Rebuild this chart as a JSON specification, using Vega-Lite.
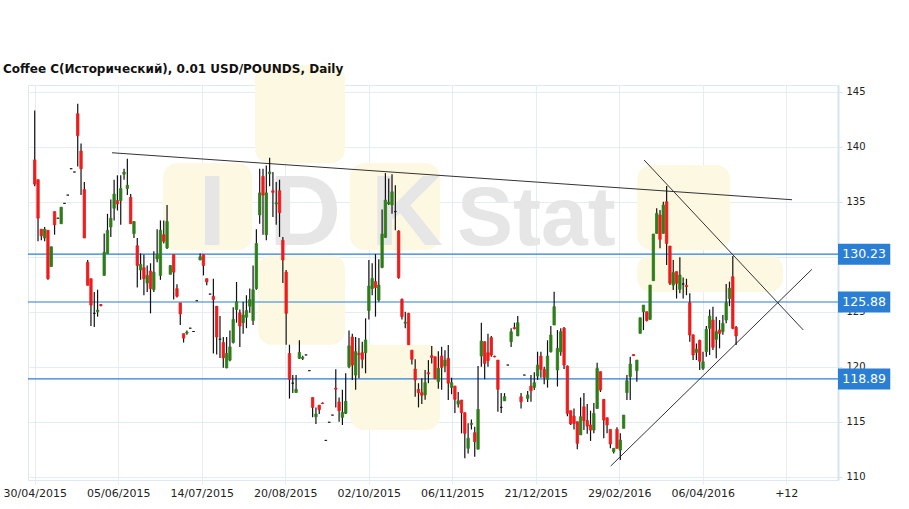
{
  "$schema": "https://vega.github.io/schema/vega-lite/v6.json",
  "width": 810,
  "height": 395,
  "autosize": {"type": "none"},
  "padding": {"left": 28, "top": 85, "right": 71, "bottom": 29},
  "background": "white",
  "title": {"text": "Coffee C(Исторический), 0.01 USD/POUNDS, Daily", "anchor": "start", "frame": "group", "dx": -25, "dy": 19, "offset": 8, "font": "DejaVu Sans", "fontSize": 12, "fontWeight": "bold", "color": "#111111"},
  "config": {"view": {"stroke": "#dfe8f1", "strokeWidth": 1}, "font": "DejaVu Sans"},
  "datasets": {
    "candles": [
      {"i":0,"o":138.8,"h":143.3,"l":136.4,"c":136.6},
      {"i":1,"o":137.0,"h":137.0,"l":131.4,"c":133.5},
      {"i":2,"o":132.5,"h":132.5,"l":131.5,"c":131.9},
      {"i":3,"o":131.7,"h":132.7,"l":131.4,"c":132.5},
      {"i":4,"o":132.4,"h":132.4,"l":127.9,"c":128.0},
      {"i":5,"o":129.1,"h":130.9,"l":129.1,"c":130.9},
      {"i":6,"o":134.1,"h":134.1,"l":132.0,"c":132.9},
      {"i":7,"o":133.5,"h":133.5,"l":133.5,"c":133.5},
      {"i":8,"o":133.0,"h":134.5,"l":133.0,"c":134.5},
      {"i":9,"o":134.85,"h":134.85,"l":134.85,"c":134.85},
      {"i":10,"o":135.6,"h":135.6,"l":135.6,"c":135.6},
      {"i":11,"o":138.0,"h":138.0,"l":138.0,"c":138.0},
      {"i":12,"o":137.7,"h":137.7,"l":137.7,"c":137.7},
      {"i":13,"o":143.0,"h":143.9,"l":138.2,"c":141.0},
      {"i":14,"o":139.6,"h":140.3,"l":135.6,"c":138.0},
      {"i":15,"o":136.1,"h":136.8,"l":131.7,"c":131.7},
      {"i":16,"o":129.5,"h":129.7,"l":127.4,"c":127.4},
      {"i":17,"o":128.0,"h":128.0,"l":123.7,"c":125.6},
      {"i":18,"o":124.85,"h":126.8,"l":123.6,"c":124.85},
      {"i":19,"o":125.0,"h":127.0,"l":124.55,"c":125.15},
      {"i":20,"o":125.65,"h":125.7,"l":125.5,"c":125.55},
      {"i":21,"o":128.3,"h":132.1,"l":128.3,"c":130.4},
      {"i":22,"o":130.3,"h":133.9,"l":130.3,"c":132.4},
      {"i":23,"o":132.7,"h":135.2,"l":131.8,"c":133.5},
      {"i":24,"o":134.4,"h":137.0,"l":133.3,"c":135.7},
      {"i":25,"o":135.1,"h":137.4,"l":134.2,"c":134.8},
      {"i":26,"o":135.1,"h":137.4,"l":132.9,"c":136.2},
      {"i":27,"o":137.5,"h":138.0,"l":137.0,"c":137.7},
      {"i":28,"o":136.2,"h":138.9,"l":135.6,"c":136.5},
      {"i":29,"o":135.4,"h":135.7,"l":133.0,"c":133.0},
      {"i":30,"o":132.1,"h":133.2,"l":131.7,"c":133.2},
      {"i":31,"o":131.0,"h":131.7,"l":127.2,"c":129.2},
      {"i":32,"o":128.8,"h":130.3,"l":127.9,"c":129.3},
      {"i":33,"o":129.0,"h":130.2,"l":126.5,"c":128.0},
      {"i":34,"o":127.6,"h":129.2,"l":126.8,"c":128.3},
      {"i":35,"o":128.7,"h":129.4,"l":124.85,"c":127.1},
      {"i":36,"o":127.0,"h":130.5,"l":126.8,"c":128.6},
      {"i":37,"o":129.8,"h":132.5,"l":129.5,"c":130.2},
      {"i":38,"o":128.3,"h":133.3,"l":127.9,"c":132.4},
      {"i":39,"o":132.0,"h":133.3,"l":131.2,"c":131.4},
      {"i":40,"o":130.8,"h":134.7,"l":130.7,"c":133.2},
      {"i":41,"o":128.4,"h":129.2,"l":128.4,"c":129.2},
      {"i":42,"o":130.2,"h":130.2,"l":126.1,"c":128.6},
      {"i":43,"o":127.1,"h":127.5,"l":126.3,"c":126.4},
      {"i":44,"o":125.8,"h":125.8,"l":123.8,"c":124.8},
      {"i":45,"o":123.0,"h":123.0,"l":122.2,"c":122.6},
      {"i":46,"o":123.05,"h":123.3,"l":122.9,"c":123.15},
      {"i":47,"o":123.5,"h":123.5,"l":123.5,"c":123.5},
      {"i":48,"o":123.2,"h":123.2,"l":123.2,"c":123.2},
      {"i":49,"o":126.0,"h":126.0,"l":126.0,"c":126.0},
      {"i":50,"o":129.7,"h":130.3,"l":129.7,"c":130.0},
      {"i":51,"o":130.2,"h":130.2,"l":128.3,"c":129.2},
      {"i":52,"o":128.0,"h":128.0,"l":127.4,"c":127.7},
      {"i":53,"o":126.6,"h":126.6,"l":126.6,"c":126.6},
      {"i":54,"o":126.4,"h":128.0,"l":121.2,"c":126.1},
      {"i":55,"o":125.5,"h":125.5,"l":121.1,"c":122.7},
      {"i":56,"o":122.5,"h":124.6,"l":120.8,"c":122.5},
      {"i":57,"o":122.2,"h":122.7,"l":119.9,"c":120.8},
      {"i":58,"o":119.9,"h":122.7,"l":119.85,"c":121.2},
      {"i":59,"o":120.6,"h":123.3,"l":120.5,"c":121.8},
      {"i":60,"o":122.2,"h":125.4,"l":122.1,"c":124.3},
      {"i":61,"o":125.2,"h":127.7,"l":124.0,"c":125.9},
      {"i":62,"o":124.9,"h":125.2,"l":121.8,"c":123.7},
      {"i":63,"o":124.0,"h":125.9,"l":123.0,"c":124.7},
      {"i":64,"o":124.5,"h":126.5,"l":123.5,"c":125.1},
      {"i":65,"o":125.5,"h":127.1,"l":124.9,"c":126.1},
      {"i":66,"o":124.2,"h":129.2,"l":123.8,"c":127.0},
      {"i":67,"o":127.1,"h":132.5,"l":127.0,"c":131.2},
      {"i":68,"o":133.8,"h":138.0,"l":133.0,"c":135.8},
      {"i":69,"o":137.3,"h":138.0,"l":132.0,"c":135.6},
      {"i":70,"o":132.0,"h":138.3,"l":131.5,"c":135.8},
      {"i":71,"o":137.55,"h":139.0,"l":136.4,"c":137.7},
      {"i":72,"o":136.0,"h":137.7,"l":133.6,"c":135.85},
      {"i":73,"o":134.8,"h":136.8,"l":132.9,"c":134.9},
      {"i":74,"o":136.0,"h":137.0,"l":131.8,"c":134.0},
      {"i":75,"o":131.5,"h":131.8,"l":127.6,"c":129.7},
      {"i":76,"o":128.6,"h":128.8,"l":122.0,"c":124.85},
      {"i":77,"o":121.2,"h":122.0,"l":117.1,"c":118.86},
      {"i":78,"o":118.5,"h":119.25,"l":117.6,"c":118.5},
      {"i":79,"o":117.65,"h":119.25,"l":117.65,"c":117.95},
      {"i":80,"o":120.76,"h":122.4,"l":120.7,"c":121.3},
      {"i":81,"o":120.75,"h":121.0,"l":120.6,"c":120.85},
      {"i":82,"o":121.07,"h":121.07,"l":121.07,"c":121.07},
      {"i":83,"o":119.64,"h":119.64,"l":119.64,"c":119.64},
      {"i":84,"o":117.2,"h":117.2,"l":115.4,"c":116.3},
      {"i":85,"o":115.45,"h":116.3,"l":114.8,"c":115.7},
      {"i":86,"o":116.5,"h":116.5,"l":115.7,"c":116.1},
      {"i":87,"o":116.7,"h":116.75,"l":116.6,"c":116.65},
      {"i":88,"o":113.3,"h":113.3,"l":113.3,"c":113.3},
      {"i":89,"o":114.95,"h":114.95,"l":114.95,"c":114.95},
      {"i":90,"o":115.6,"h":115.6,"l":115.6,"c":115.6},
      {"i":91,"o":118.05,"h":119.76,"l":116.3,"c":117.95},
      {"i":92,"o":116.8,"h":117.2,"l":115.0,"c":116.0},
      {"i":93,"o":115.4,"h":117.9,"l":114.7,"c":115.85},
      {"i":94,"o":115.76,"h":119.4,"l":115.7,"c":116.85},
      {"i":95,"o":120.0,"h":123.3,"l":119.85,"c":121.9},
      {"i":96,"o":122.7,"h":123.0,"l":118.8,"c":120.15},
      {"i":97,"o":119.24,"h":122.7,"l":117.9,"c":121.37},
      {"i":98,"o":121.2,"h":122.6,"l":118.94,"c":121.1},
      {"i":99,"o":121.27,"h":122.27,"l":119.85,"c":120.67},
      {"i":100,"o":121.27,"h":124.4,"l":119.4,"c":122.43},
      {"i":101,"o":125.1,"h":129.7,"l":124.3,"c":127.33},
      {"i":102,"o":127.1,"h":129.4,"l":126.5,"c":128.03},
      {"i":103,"o":127.73,"h":130.24,"l":124.55,"c":127.2},
      {"i":104,"o":126.06,"h":129.76,"l":125.9,"c":127.43},
      {"i":105,"o":129.03,"h":134.3,"l":128.94,"c":132.06},
      {"i":106,"o":131.76,"h":137.6,"l":131.7,"c":135.15},
      {"i":107,"o":134.8,"h":137.1,"l":134.7,"c":134.95},
      {"i":108,"o":134.7,"h":137.5,"l":133.9,"c":135.9},
      {"i":109,"o":134.1,"h":136.5,"l":132.4,"c":134.1},
      {"i":110,"o":132.33,"h":132.4,"l":128.0,"c":128.1},
      {"i":111,"o":126.12,"h":126.2,"l":124.3,"c":124.55},
      {"i":112,"o":123.95,"h":125.0,"l":123.5,"c":124.05},
      {"i":113,"o":124.85,"h":124.9,"l":122.0,"c":122.0},
      {"i":114,"o":121.5,"h":121.5,"l":120.2,"c":120.67},
      {"i":115,"o":119.79,"h":120.67,"l":117.27,"c":118.79},
      {"i":116,"o":117.94,"h":118.5,"l":116.3,"c":117.64},
      {"i":117,"o":117.64,"h":118.94,"l":116.6,"c":117.4},
      {"i":118,"o":117.43,"h":119.7,"l":117.0,"c":118.55},
      {"i":119,"o":119.45,"h":120.6,"l":118.5,"c":119.35},
      {"i":120,"o":121.0,"h":121.88,"l":120.3,"c":120.85},
      {"i":121,"o":120.9,"h":120.9,"l":118.9,"c":118.9},
      {"i":122,"o":118.64,"h":121.4,"l":118.0,"c":119.85},
      {"i":123,"o":120.97,"h":121.82,"l":117.9,"c":119.94},
      {"i":124,"o":120.06,"h":121.5,"l":119.5,"c":120.6},
      {"i":125,"o":120.76,"h":121.97,"l":116.97,"c":118.5},
      {"i":126,"o":118.12,"h":119.0,"l":117.5,"c":118.55},
      {"i":127,"o":118.24,"h":118.24,"l":115.8,"c":117.03},
      {"i":128,"o":116.6,"h":117.7,"l":116.3,"c":116.9},
      {"i":129,"o":116.97,"h":116.97,"l":113.94,"c":115.82},
      {"i":130,"o":115.82,"h":115.82,"l":111.67,"c":113.94},
      {"i":131,"o":112.58,"h":114.85,"l":112.12,"c":113.5},
      {"i":132,"o":114.75,"h":115.2,"l":114.3,"c":114.85},
      {"i":133,"o":114.0,"h":114.55,"l":111.82,"c":113.18},
      {"i":134,"o":112.5,"h":120.06,"l":112.5,"c":116.12},
      {"i":135,"o":120.97,"h":124.0,"l":120.0,"c":122.33},
      {"i":136,"o":122.27,"h":122.3,"l":118.85,"c":120.3},
      {"i":137,"o":121.27,"h":123.0,"l":120.0,"c":120.55},
      {"i":138,"o":122.64,"h":122.8,"l":120.9,"c":121.06},
      {"i":139,"o":120.95,"h":121.0,"l":120.85,"c":120.9},
      {"i":140,"o":120.6,"h":120.6,"l":115.9,"c":117.94},
      {"i":141,"o":116.3,"h":117.6,"l":115.8,"c":116.3},
      {"i":142,"o":116.9,"h":117.6,"l":116.9,"c":117.27},
      {"i":143,"o":120.15,"h":120.15,"l":120.15,"c":120.15},
      {"i":144,"o":122.27,"h":123.5,"l":121.8,"c":123.18},
      {"i":145,"o":123.55,"h":124.0,"l":123.4,"c":123.45},
      {"i":146,"o":122.8,"h":124.6,"l":122.8,"c":124.0},
      {"i":147,"o":117.27,"h":117.6,"l":116.2,"c":116.82},
      {"i":148,"o":119.24,"h":119.24,"l":119.24,"c":119.24},
      {"i":149,"o":117.12,"h":117.8,"l":116.8,"c":117.43},
      {"i":150,"o":118.24,"h":119.24,"l":116.82,"c":117.82},
      {"i":151,"o":118.12,"h":119.5,"l":117.88,"c":118.55},
      {"i":152,"o":119.15,"h":121.36,"l":118.8,"c":120.15},
      {"i":153,"o":120.97,"h":121.36,"l":119.0,"c":119.76},
      {"i":154,"o":119.76,"h":120.0,"l":118.4,"c":119.03},
      {"i":155,"o":118.85,"h":122.4,"l":118.1,"c":120.97},
      {"i":156,"o":121.36,"h":123.7,"l":121.3,"c":122.88},
      {"i":157,"o":123.79,"h":126.82,"l":123.79,"c":125.46},
      {"i":158,"o":119.7,"h":123.33,"l":118.2,"c":121.67},
      {"i":159,"o":121.36,"h":123.5,"l":121.0,"c":123.18},
      {"i":160,"o":123.5,"h":123.6,"l":119.8,"c":120.15},
      {"i":161,"o":120.06,"h":120.1,"l":115.5,"c":115.76},
      {"i":162,"o":116.0,"h":116.0,"l":114.7,"c":114.8},
      {"i":163,"o":115.5,"h":116.2,"l":114.3,"c":114.85},
      {"i":164,"o":115.0,"h":115.0,"l":112.5,"c":113.03},
      {"i":165,"o":113.8,"h":117.2,"l":113.8,"c":115.45},
      {"i":166,"o":116.36,"h":117.6,"l":114.25,"c":115.1},
      {"i":167,"o":115.1,"h":116.6,"l":113.9,"c":114.6},
      {"i":168,"o":114.7,"h":116.0,"l":113.25,"c":114.24},
      {"i":169,"o":114.24,"h":116.7,"l":113.94,"c":115.76},
      {"i":170,"o":116.2,"h":120.36,"l":116.2,"c":119.85},
      {"i":171,"o":119.55,"h":119.55,"l":117.7,"c":117.88},
      {"i":172,"o":117.03,"h":117.03,"l":113.5,"c":115.15},
      {"i":173,"o":115.36,"h":115.36,"l":113.94,"c":114.7},
      {"i":174,"o":114.3,"h":114.3,"l":112.58,"c":112.97},
      {"i":175,"o":112.27,"h":112.58,"l":112.1,"c":112.58},
      {"i":176,"o":114.3,"h":114.5,"l":112.58,"c":112.58},
      {"i":177,"o":112.42,"h":113.94,"l":111.52,"c":113.33},
      {"i":178,"o":114.4,"h":115.6,"l":114.4,"c":115.6},
      {"i":179,"o":117.64,"h":119.24,"l":116.97,"c":118.73},
      {"i":180,"o":119.09,"h":120.9,"l":116.97,"c":120.24},
      {"i":181,"o":121.1,"h":121.15,"l":121.0,"c":121.0},
      {"i":182,"o":119.64,"h":120.6,"l":118.64,"c":120.6},
      {"i":183,"o":123.03,"h":124.45,"l":123.03,"c":124.45},
      {"i":184,"o":125.0,"h":125.6,"l":123.33,"c":125.6},
      {"i":185,"o":125.0,"h":125.0,"l":124.1,"c":124.2},
      {"i":186,"o":124.3,"h":127.42,"l":124.3,"c":127.42},
      {"i":187,"o":127.82,"h":132.06,"l":127.82,"c":132.06},
      {"i":188,"o":132.12,"h":134.4,"l":132.12,"c":133.94},
      {"i":189,"o":133.79,"h":134.24,"l":130.76,"c":131.58},
      {"i":190,"o":132.12,"h":135.0,"l":132.12,"c":134.7},
      {"i":191,"o":135.0,"h":136.42,"l":129.24,"c":131.21},
      {"i":192,"o":130.97,"h":130.97,"l":127.42,"c":127.58},
      {"i":193,"o":127.42,"h":129.7,"l":126.97,"c":128.55},
      {"i":194,"o":128.64,"h":128.64,"l":126.2,"c":127.58},
      {"i":195,"o":127.03,"h":129.94,"l":126.67,"c":128.33},
      {"i":196,"o":127.52,"h":128.1,"l":126.2,"c":127.52},
      {"i":197,"o":127.38,"h":128.0,"l":126.5,"c":127.28},
      {"i":198,"o":125.82,"h":126.67,"l":122.27,"c":122.88},
      {"i":199,"o":122.9,"h":122.9,"l":120.6,"c":121.06},
      {"i":200,"o":121.3,"h":122.1,"l":120.6,"c":121.6},
      {"i":201,"o":122.4,"h":122.45,"l":119.7,"c":120.5},
      {"i":202,"o":119.85,"h":121.37,"l":119.7,"c":120.45},
      {"i":203,"o":121.37,"h":123.7,"l":120.9,"c":123.4},
      {"i":204,"o":123.49,"h":125.2,"l":121.06,"c":124.6},
      {"i":205,"o":124.24,"h":125.45,"l":121.52,"c":121.76},
      {"i":206,"o":122.49,"h":124.55,"l":120.76,"c":123.18},
      {"i":207,"o":123.34,"h":124.24,"l":121.67,"c":123.03},
      {"i":208,"o":123.18,"h":124.7,"l":122.9,"c":123.94},
      {"i":209,"o":124.24,"h":127.52,"l":123.94,"c":125.82},
      {"i":210,"o":126.2,"h":127.73,"l":125.5,"c":127.12},
      {"i":211,"o":128.18,"h":130.06,"l":123.4,"c":123.49},
      {"i":212,"o":123.58,"h":123.7,"l":121.97,"c":122.79}
    ],
    "levels": [{"v": 130.23}, {"v": 125.88}, {"v": 118.89}],
    "trend": [
      {"x1": 23.37, "y1": 139.45, "x2": 228.9, "y2": 135.18},
      {"x1": 184.2, "y1": 138.79, "x2": 232.3, "y2": 123.34},
      {"x1": 174.1, "y1": 110.97, "x2": 234.9, "y2": 128.85}
    ],
    "wm": [
      {"x1": 66.6, "x2": 93.8, "y1": 147.4, "y2": 138.5},
      {"x1": 38.8, "x2": 65.7, "y1": 138.5, "y2": 130.6},
      {"x1": 95.3, "x2": 122.5, "y1": 138.5, "y2": 130.6},
      {"x1": 67.5, "x2": 93.8, "y1": 130.15, "y2": 122.0},
      {"x1": 95.3, "x2": 122.5, "y1": 122.0, "y2": 114.25},
      {"x1": 182.1, "x2": 210.2, "y1": 138.34, "y2": 130.6},
      {"x1": 182.1, "x2": 226.2, "y1": 130.15, "y2": 126.8}
    ],
    "wmtext": [
      {"x": 53.6, "y": 131.06, "t": "I"},
      {"x": 81.7, "y": 131.06, "t": "D"},
      {"x": 112.5, "y": 131.06, "t": "K"}
    ],
    "wmstat": [
      {"x": 151.6, "y": 131.06, "t": "Stat"}
    ]
  },
  "layer": [
    {
      "data": {"name": "wm"},
      "mark": {"type": "rect", "cornerRadius": 14, "fill": "#fdf8e2", "clip": false},
      "encoding": {
        "x": {"field": "x1", "type": "quantitative", "title": null,
              "scale": {"domain": [-2.03, 242.8], "nice": false, "zero": false, "padding": 0},
              "axis": {"orient": "bottom", "values": [0, 25.24, 50.48, 75.72, 100.96, 126.2, 151.44, 176.68, 201.92, 227.16],
                       "labelExpr": "['30/04/2015','05/06/2015','14/07/2015','20/08/2015','02/10/2015','06/11/2015','21/12/2015','29/02/2016','06/04/2016','+12'][round(datum.value/25.24)]",
                       "grid": true, "gridColor": "#e4ecf4", "gridWidth": 1, "domain": false, "ticks": true, "tickColor": "#e4ecf4", "tickSize": 4,
                       "labelFont": "DejaVu Sans", "labelFontSize": 11, "labelColor": "#222222", "labelPadding": 3, "labelFlush": false, "labelOverlap": false}},
        "x2": {"field": "x2"},
        "y": {"field": "y1", "type": "quantitative", "title": null,
              "scale": {"domain": [109.7, 145.61], "nice": false, "zero": false, "padding": 0},
              "axis": {"orient": "right", "values": [110, 115, 120, 125, 130, 135, 140, 145],
                       "grid": true, "gridColor": "#e4ecf4", "gridWidth": 1, "domain": true, "domainColor": "#d5e3f0", "domainWidth": 2,
                       "ticks": true, "tickColor": "#d5e3f0", "tickSize": 4,
                       "labelFont": "DejaVu Sans", "labelFontSize": 10, "labelColor": "#222222", "labelPadding": 4}},
        "y2": {"field": "y2"}
      }
    },
    {
      "data": {"name": "wmtext"},
      "mark": {"type": "text", "font": "Liberation Sans", "fontWeight": "bold", "fontSize": 100, "color": "#e6e6e6", "baseline": "alphabetic", "align": "center"},
      "encoding": {
        "x": {"field": "x", "type": "quantitative", "title": null},
        "y": {"field": "y", "type": "quantitative", "title": null},
        "text": {"field": "t"}
      }
    },
    {
      "data": {"name": "wmstat"},
      "mark": {"type": "text", "font": "Liberation Sans", "fontWeight": "bold", "fontSize": 84, "color": "#e6e6e6", "baseline": "alphabetic", "align": "center"},
      "encoding": {
        "x": {"field": "x", "type": "quantitative", "title": null},
        "y": {"field": "y", "type": "quantitative", "title": null},
        "text": {"field": "t"}
      }
    },
    {
      "data": {"name": "levels"},
      "mark": {"type": "rule", "color": "#2a7fd4", "strokeWidth": 1.2},
      "encoding": {"y": {"field": "v", "type": "quantitative", "title": null}}
    },
    {
      "data": {"name": "trend"},
      "mark": {"type": "rule", "color": "#333333", "strokeWidth": 1},
      "encoding": {
        "x": {"field": "x1", "type": "quantitative", "title": null},
        "x2": {"field": "x2"},
        "y": {"field": "y1", "type": "quantitative", "title": null},
        "y2": {"field": "y2"}
      }
    },
    {
      "data": {"name": "candles"},
      "mark": {"type": "rule", "color": "#111111", "strokeWidth": 1.2},
      "encoding": {
        "x": {"field": "i", "type": "quantitative", "title": null},
        "y": {"field": "l", "type": "quantitative", "title": null},
        "y2": {"field": "h"}
      }
    },
    {
      "data": {"name": "candles"},
      "mark": {"type": "bar", "width": 2.4, "strokeWidth": 0.8},
      "encoding": {
        "x": {"field": "i", "type": "quantitative", "title": null},
        "y": {"field": "o", "type": "quantitative", "title": null},
        "y2": {"field": "c"},
        "fill": {"condition": [{"test": "datum.c > datum.o", "value": "#2e7d1a"}, {"test": "datum.c < datum.o", "value": "#ee1c1c"}], "value": "#111111"},
        "stroke": {"condition": [{"test": "datum.c > datum.o", "value": "#2e7d1a"}, {"test": "datum.c < datum.o", "value": "#ee1c1c"}], "value": "#111111"}
      }
    },
    {
      "data": {"name": "levels"},
      "mark": {"type": "bar", "height": 21, "color": "#2a7fd4", "clip": false},
      "encoding": {
        "x": {"datum": 242.8, "type": "quantitative"},
        "x2": {"datum": 258.6},
        "y": {"field": "v", "type": "quantitative", "title": null}
      }
    },
    {
      "data": {"name": "levels"},
      "mark": {"type": "text", "font": "DejaVu Sans", "fontSize": 12.5, "color": "white", "align": "center", "baseline": "middle"},
      "encoding": {
        "x": {"datum": 250.7, "type": "quantitative"},
        "y": {"field": "v", "type": "quantitative", "title": null},
        "text": {"field": "v", "type": "quantitative", "format": ".2f"}
      }
    }
  ]
}
